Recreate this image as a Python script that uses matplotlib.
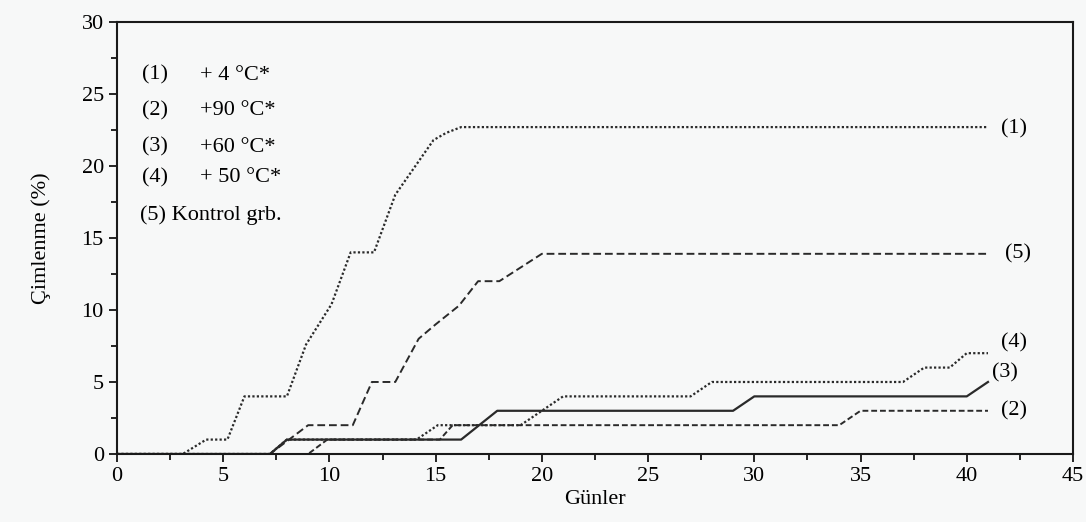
import numpy as np
import matplotlib.pyplot as plt
from matplotlib.ticker import MultipleLocator

plt.rcParams['font.family'] = ['Liberation Serif', 'DejaVu Serif']

# (1) +4 C
days1 = [0, 3.1, 4.2, 5.2, 6.0, 8.0, 8.9, 10.1, 11.0, 12.1, 13.1, 14.0, 14.9, 15.5, 16.2, 41.0]
vals1 = [0, 0, 1, 1, 4, 4, 7.6, 10.4, 14, 14, 18, 19.9, 21.8, 22.3, 22.7, 22.7]
# (2) +90 C
days2 = [0, 9.0, 9.9, 15.2, 15.8, 34.0, 35.0, 41.0]
vals2 = [0, 0, 1, 1, 2, 2, 3, 3]
# (3) +60 C
days3 = [0, 7.2, 8.0, 16.2, 17.9, 29.0, 30.0, 40.0, 41.0]
vals3 = [0, 0, 1, 1, 3, 3, 4, 4, 5]
# (4) +50 C
days4 = [0, 7.2, 8.0, 14.1, 15.1, 19.0, 21.0, 27.0, 28.0, 37.0, 38.0, 39.2, 40.0, 41.0]
vals4 = [0, 0, 1, 1, 2, 2, 4, 4, 5, 5, 6, 6, 7, 7]
# (5) kontrol
days5 = [0, 7.2, 9.0, 11.1, 12.0, 13.1, 14.2, 15.0, 16.1, 17.0, 18.0, 20.0, 41.0]
vals5 = [0, 0, 2, 2, 5, 5, 8, 9, 10.3, 12, 12, 13.9, 13.9]

legend_nums = ['(1)', '(2)', '(3)', '(4)']
legend_temps = ['+ 4 °C*', '+90 °C*', '+60 °C*', '+ 50 °C*']

bg = '#f7f8f8'
lc = '#2a2a2a'

fig = plt.figure(figsize=(10.86, 5.22), dpi=100, facecolor=bg)
ax = fig.add_axes([0.1077, 0.1303, 0.988 - 0.1077, 0.9579 - 0.1303])
ax.set_facecolor(bg)

ax.plot(days1, vals1, color=lc, lw=1.6, ls=(0, (1, 1)))
ax.plot(days2, vals2, color=lc, lw=1.4, ls=(0, (3, 1.5)))
ax.plot(days3, vals3, color=lc, lw=1.6, ls='-')
ax.plot(days4, vals4, color=lc, lw=1.6, ls=(0, (1, 1)))
ax.plot(days5, vals5, color=lc, lw=1.4, ls=(0, (4, 2)))

# curve labels at the right end
ax.text(41.6, 22.6, '(1)', fontsize=16, va='center', ha='left')
ax.text(41.8, 13.9, '(5)', fontsize=16, va='center', ha='left')
ax.text(41.6, 7.7, '(4)', fontsize=16, va='center', ha='left')
ax.text(41.2, 5.6, '(3)', fontsize=16, va='center', ha='left')
ax.text(41.6, 3.0, '(2)', fontsize=16, va='center', ha='left')

# legend text block
ys = [26.3, 23.85, 21.3, 19.2]
for num, t, y in zip(legend_nums, legend_temps, ys):
    ax.text(1.2, y, num, fontsize=16, va='center', ha='left')
    ax.text(3.9, y, t, fontsize=16, va='center', ha='left')
ax.text(1.1, 16.6, '(5) Kontrol grb.', fontsize=16, va='center', ha='left')

ax.set_xlim(0, 45)
ax.set_ylim(0, 30)
ax.xaxis.set_major_locator(MultipleLocator(5))
ax.xaxis.set_minor_locator(MultipleLocator(2.5))
ax.yaxis.set_major_locator(MultipleLocator(5))
ax.yaxis.set_minor_locator(MultipleLocator(2.5))
ax.tick_params(which='both', direction='out', width=1.2, colors='black',
               top=False, right=False)
ax.tick_params(which='major', length=6, labelsize=16)
ax.tick_params(which='minor', length=4)
for s in ax.spines.values():
    s.set_linewidth(1.5)
    s.set_color('#1a1a1a')

ax.set_xlabel('Günler', fontsize=16, labelpad=3)
ax.set_ylabel('Çimlenme (%)', fontsize=16, labelpad=22)

fig.savefig('out.png', dpi=100, facecolor=bg)
